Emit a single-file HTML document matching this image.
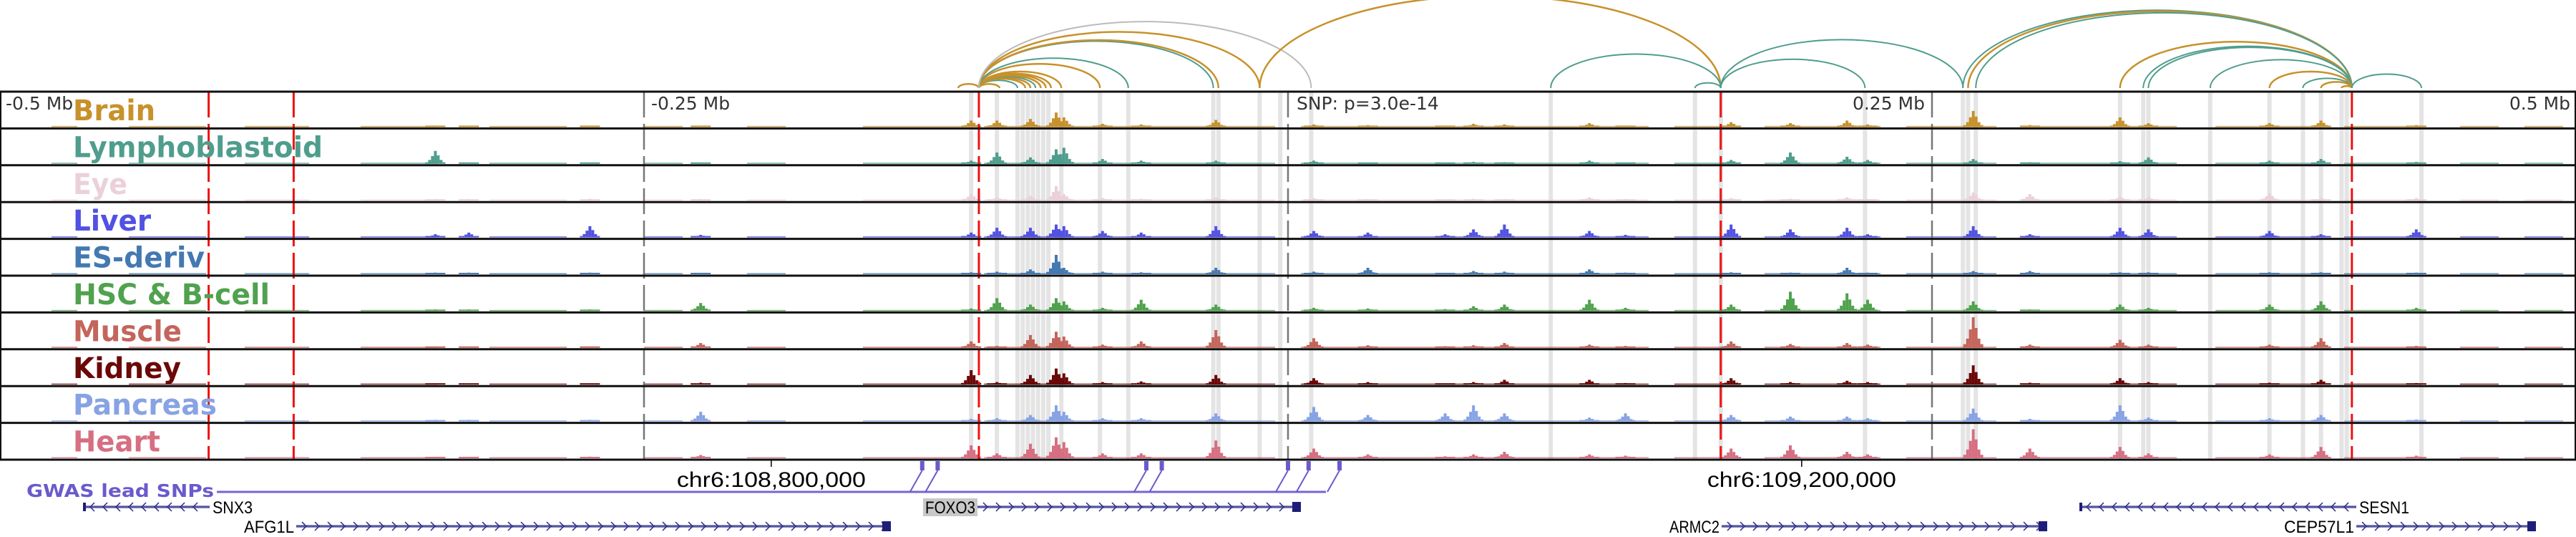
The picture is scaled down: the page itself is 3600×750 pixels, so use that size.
<!DOCTYPE html>
<html><head><meta charset="utf-8"><title>Regulatory tracks around FOXO3</title>
<style>
html,body{margin:0;padding:0;background:#fff;}
svg{display:block;}
</style></head>
<body>
<svg id="chart" width="3600" height="750" viewBox="0 0 3600 750" xmlns="http://www.w3.org/2000/svg">
<g id="bands"></g>
<g id="arcs" fill="none"></g>
<g id="tracks"></g>
<g id="vlines"></g>
<g id="frames"></g>
<g id="labels"></g>
<g id="genes"></g>
</svg>
<script>
// ---- data ----
const trackNames = ["Brain","Lymphoblastoid","Eye","Liver","ES-deriv","HSC & B-cell","Muscle","Kidney","Pancreas","Heart"];
const trackColors = ["#C8912B","#4F9D8D","#EBD0DA","#5151E3","#4479B1","#50A24E","#C4655C","#6B0808","#87A3E4","#D66F82"];
const labelWidths = [115,349,76,109,184,275,152,151,201,122];
// peak sites (kb from lead SNP)
const sites = [-331,-318,-271,-228,-123,-113,-100,-90,-87,-72,-28,10,31,72,84,117,172,195,217,225,266,288,323,334,381,401,438,-57,131,61];
const brainH  = [.03,.02,.03,.04,.2,.2,.25,.45,.3,.1,.22,.08,.06,.1,.08,.12,.15,.12,.2,.08,.5,.06,.3,.12,.12,.2,.06,.08,.04,.04];
const lymphH  = [.4,.03,.04,.04,.1,.35,.2,.45,.5,.15,.1,.1,.04,.06,.05,.1,.12,.35,.22,.12,.15,.05,.08,.2,.1,.15,.06,.1,.04,.04];
const eyeH    = [.05,.05,.06,.05,.2,.1,.15,.45,.2,.08,.1,.08,.05,.06,.05,.1,.08,.06,.1,.05,.25,.2,.12,.1,.22,.08,.08,.06,.05,.04];
const liverH  = [.1,.15,.35,.08,.15,.3,.3,.4,.35,.2,.35,.2,.15,.25,.4,.2,.4,.25,.3,.1,.35,.1,.3,.25,.2,.1,.25,.15,.08,.1];
const esH     = [.05,.05,.05,.04,.06,.08,.15,.6,.2,.08,.2,.08,.2,.1,.08,.15,.06,.05,.2,.05,.1,.1,.06,.06,.06,.06,.05,.06,.05,.04];
const hscH    = [.05,.05,.05,.25,.08,.4,.2,.4,.3,.1,.2,.1,.08,.15,.2,.35,.2,.6,.55,.35,.3,.05,.2,.1,.2,.3,.1,.35,.1,.06];
const muscleH = [.04,.03,.04,.15,.2,.06,.4,.5,.35,.1,.55,.3,.08,.08,.15,.1,.2,.12,.15,.1,.95,.1,.25,.1,.1,.3,.06,.2,.06,.05];
const kidneyH = [.04,.04,.04,.06,.45,.08,.3,.5,.35,.08,.3,.2,.08,.08,.15,.15,.2,.08,.12,.08,.6,.06,.2,.08,.06,.15,.05,.1,.05,.04];
const pancH   = [.05,.05,.05,.3,.08,.1,.2,.5,.3,.1,.25,.45,.2,.5,.25,.12,.2,.15,.15,.1,.4,.08,.5,.12,.1,.2,.06,.1,.25,.25];
const heartH  = [.04,.04,.05,.1,.4,.15,.45,.65,.5,.15,.55,.3,.12,.12,.2,.12,.3,.4,.2,.12,.9,.3,.35,.15,.12,.35,.08,.15,.08,.06];
const trackHeights = [brainH,lymphH,eyeH,liverH,esH,hscH,muscleH,kidneyH,pancH,heartH];
// low-coverage baseline segments (kb)
const baseSegs = [[-480,-470],[-450,-420],[-405,-380],[-360,-330],[-310,-280],[-250,-235],[-210,-195],[-165,-125],[-118,-60],[-55,-5],[5,70],[75,140],[150,175],[185,230],[240,275],[285,345],[360,400],[410,440],[455,470],[480,495]];
const bandSites = [-123,-113,-105,-103,-101,-99,-97,-95,-93,-88,-73,-62,-29,-27,-11,-3,9,102,158,168,224,262,264,267,323,332,334,358,381,394,401,409,411,440];
const redLines = [-419,-386,-120,168,413];
const greyLines = [-250,0,250];
// arcs [start kb, end kb, color index 0 brain,1 lymph,2 grey]
const arcs = [[-128,-120,0],[-120,-112,0],[-120,-105,1],[-120,-102,0],[-120,-100,0],[-120,-98,1],[-120,-96,0],[-120,-94,0],[-120,-92,0],[-120,-88,0],[-120,-73,0],[-120,-62,1],[-120,-29,1],[-120,-27,0],[-120,-11,0],[-120,9,2],[-11,168,0],[102,168,1],[158,168,1],[168,224,1],[168,262,1],[262,413,1],[264,413,0],[267,413,1],[323,413,0],[332,413,1],[334,413,1],[358,413,1],[381,413,0],[394,413,1],[401,413,0],[409,413,0],[413,440,1]];
const arcColors = ["#C8912B","#4F9D8D","#BBBBBB"];
const snpSites = [-142,-136,-55,-49,0,8,20];
const axisTicks = [{kb:-200.6,label:"chr6:108,800,000"},{kb:199.4,label:"chr6:109,200,000"}];

// ---- scales ----
const X = kb => 1800 + kb*3.6;
const TOP = 128, TH = 51.4;
const NS = "http://www.w3.org/2000/svg";
function mk(tag, parent, attrs){const e=document.createElementNS(NS,tag);for(const k in attrs)e.setAttribute(k,attrs[k]);parent.appendChild(e);return e;}

// bands
const gB=document.getElementById('bands');
bandSites.forEach(s=>{
  const r=mk('rect',gB,{x:X(s)-3,y:TOP,width:6,height:TH*10,fill:'#E4E4E4'});
  
  
});

// arcs
const gA=document.getElementById('arcs');
const AB=123;
arcs.forEach(a=>{
  const x1=X(a[0]),x2=X(a[1]),rx=(x2-x1)/2,ry=(x2-x1)*0.2;
  const p=mk('path',gA,{d:`M${x1},${AB} A${rx},${ry} 0 0 1 ${x2},${AB}`,stroke:arcColors[a[2]],'stroke-width':a[2]===0?2.5:2});
  
  
});

// tracks
const gT=document.getElementById('tracks');
const shape=[.12,.3,.6,1,.65,.3,.12];
trackHeights.forEach((hs,t)=>{
  const g=mk('g',gT,{fill:trackColors[t]});
  
  
  const base=TOP+TH*(t+1)-2;
  baseSegs.forEach(s=>{mk('rect',g,{x:X(s[0]),y:base-1.5,width:X(s[1])-X(s[0]),height:1.5,opacity:0.8});});
  sites.forEach((s,i)=>{
    const h=hs[i]*45;
    shape.forEach((f,k)=>{
      const bh=Math.max(2,h*f);
      const b=mk('rect',g,{x:X(s)+(k-3)*4-2,y:base-bh,width:4,height:bh});
      
      
    });
  });
});

// vertical lines
const gV=document.getElementById('vlines');
redLines.forEach(s=>{
  const l=mk('line',gV,{x1:X(s),x2:X(s),y1:TOP,y2:TOP+TH*10,stroke:'#EE1111','stroke-width':3,'stroke-dasharray':'36 9'});
  
  
});
greyLines.forEach(s=>{
  const l=mk('line',gV,{x1:X(s),x2:X(s),y1:TOP,y2:TOP+TH*10,stroke:'#777','stroke-width':2.5,'stroke-dasharray':'36 9'});
  
  
});

// frames
const gF=document.getElementById('frames');
for(let i=0;i<=10;i++){
  const l=mk('line',gF,{x1:0,x2:3600,y1:TOP+TH*i,y2:TOP+TH*i,stroke:'#111','stroke-width':3});
  
  
}
mk('line',gF,{x1:1,x2:1,y1:TOP,y2:TOP+TH*10,stroke:'#111','stroke-width':2});
mk('line',gF,{x1:3599,x2:3599,y1:TOP,y2:TOP+TH*10,stroke:'#111','stroke-width':2});

// labels
const gL=document.getElementById('labels');
trackNames.forEach((n,t)=>{
  const tx=mk('text',gL,{x:102,y:TOP+TH*t+40,fill:trackColors[t],'font-family':'DejaVu Sans, Liberation Sans, sans-serif','font-weight':'bold','font-size':40,textLength:labelWidths[t],lengthAdjust:'spacingAndGlyphs'});
  tx.textContent=n;
  
  
});
const axisLab=[{x:8,a:'start',t:'-0.5 Mb'},{x:910,a:'start',t:'-0.25 Mb'},{x:1812,a:'start',t:'SNP: p=3.0e-14'},{x:2690,a:'end',t:'0.25 Mb'},{x:3592,a:'end',t:'0.5 Mb'}];
axisLab.forEach(o=>{
  const tx=mk('text',gL,{x:o.x,y:153,'text-anchor':o.a,fill:'#333','font-family':'DejaVu Sans, Liberation Sans, sans-serif','font-size':25});
  tx.textContent=o.t;
  
  
});

// gene track
const gG=document.getElementById('genes');
const gw=mk('text',gG,{x:37,y:694,fill:'#6A5ACD','font-family':'DejaVu Sans, Liberation Sans, sans-serif','font-weight':'bold','font-size':25,textLength:262,lengthAdjust:'spacingAndGlyphs'});
gw.textContent='GWAS lead SNPs';


mk('line',gG,{x1:303,x2:1853,y1:687,y2:687,stroke:'#7466D6','stroke-width':3});
snpSites.forEach((s,i)=>{
  const x=X(s);
  const r=mk('rect',gG,{x:x-3,y:644,width:6,height:13,fill:'#6A5ACD'});
  
  
  mk('line',gG,{x1:x,y1:657,x2:x-17,y2:687,stroke:'#6A5ACD','stroke-width':2});
});
axisTicks.forEach(o=>{
  const x=X(o.kb);
  mk('line',gG,{x1:x,x2:x,y1:642,y2:652,stroke:'#000','stroke-width':1.5});
  const tx=mk('text',gG,{x:x-132,y:680,fill:'#000','font-family':'Liberation Sans, sans-serif','font-size':30,textLength:264,lengthAdjust:'spacingAndGlyphs'});
  tx.textContent=o.label;
  
  
});
const genes=[
 {n:'SNX3',x1:116,x2:293,y:708,dir:-1,lab:'right'},
 {n:'AFG1L',x1:414,x2:1245,y:735,dir:1,lab:'left'},
 {n:'FOXO3',x1:1366,x2:1818,y:708,dir:1,lab:'left',hl:true},
 {n:'ARMC2',x1:2406,x2:2861,y:735,dir:1,lab:'left'},
 {n:'SESN1',x1:2906,x2:3293,y:708,dir:-1,lab:'right'},
 {n:'CEP57L1',x1:3293,x2:3544,y:735,dir:1,lab:'left'}];
genes.forEach(g=>{
  const grp=mk('g',gG,{});
  
  
  mk('line',grp,{x1:g.x1,x2:g.x2,y1:g.y,y2:g.y,stroke:'#1E1E78','stroke-width':3});
  mk('line',grp,{x1:g.x1,x2:g.x2,y1:g.y,y2:g.y,stroke:'#8E8EC8','stroke-width':1});
  for(let x=g.x1+12;x<g.x2-6;x+=18){
    const d=g.dir>0?`M${x-4},${g.y-6} L${x+2},${g.y} L${x-4},${g.y+6}`:`M${x+4},${g.y-6} L${x-2},${g.y} L${x+4},${g.y+6}`;
    mk('path',grp,{d:d,stroke:'#2A2A88','stroke-width':1.5,fill:'none'});
  }
  if(g.dir>0) mk('rect',grp,{x:g.x2-12,y:g.y-7,width:12,height:14,fill:'#1E1E78'});
  else mk('rect',grp,{x:g.x1,y:g.y-6,width:4,height:12,fill:'#1E1E78'});
  const w=g.n.length*14;
  if(g.hl) mk('rect',grp,{x:g.x1-w-6,y:g.y-12,width:w+6,height:25,fill:'#C8C8C8'});
  const tx=mk('text',grp,{x:g.lab==='right'?g.x2+4:g.x1-3,y:g.y+9,'text-anchor':g.lab==='right'?'start':'end',fill:'#000','font-family':'Liberation Sans, sans-serif','font-size':24,textLength:w,lengthAdjust:'spacingAndGlyphs'});
  tx.textContent=g.n;
});
</script>
</body></html>
